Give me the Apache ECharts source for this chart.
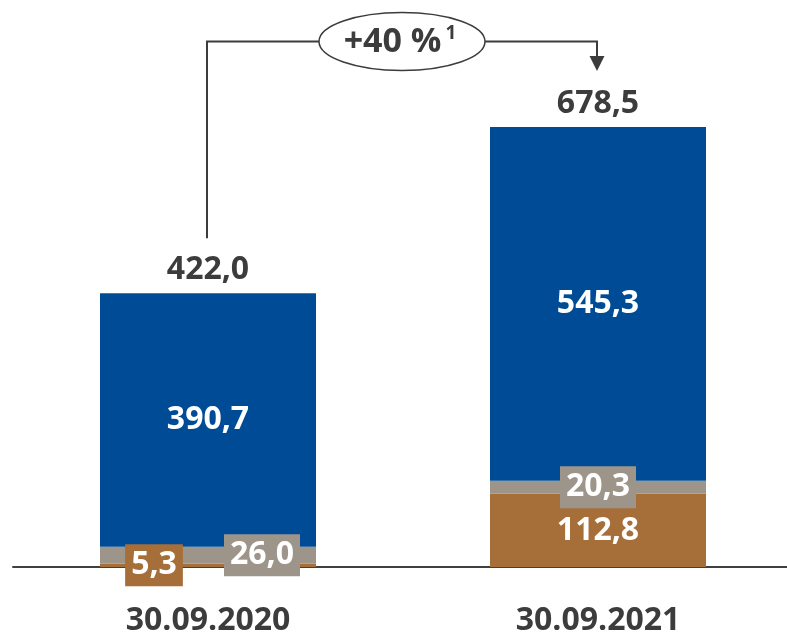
<!DOCTYPE html>
<html>
<head>
<meta charset="utf-8">
<script src="https://cdn.jsdelivr.net/npm/echarts@6/dist/echarts.min.js"></script>
<style>
  html, body { margin: 0; padding: 0; background: #fff; }
  #chart { width: 787px; height: 633px; }
</style>
</head>
<body>
<div id="chart"></div>
<script>
// data
var categories = ['30.09.2020', '30.09.2021']
var brownValues = [5.3, 112.8]
var grayValues = [26.0, 20.3]
var blueValues = [390.7, 545.3]
var totals = [422.0, 678.5]
var growthText = '+40 %'
var growthNote = '1'

var BLUE = '#004b96'
var GRAY = '#9e958a'
var BROWN = '#a66e38'
var DARK = '#3c3c3c'
var FONT = 'Open Sans'

function fmt(v) {
  return v.toFixed(1).replace('.', ',')
}

var baseLabel = {
  show: true,
  position: 'inside',
  color: '#fff',
  fontFamily: FONT,
  fontWeight: 'bold',
  fontSize: 32,
  lineHeight: 34,
  formatter: function (p) { return fmt(p.value) }
}

function boxLabel(color, dx) {
  return Object.assign({}, baseLabel, {
    backgroundColor: color,
    padding: [4, 6],
    offset: [dx, 0]
  })
}

// per-bar label styles (small segments get a boxed label)
var brownLabels = [boxLabel(BROWN, -54), baseLabel]
var grayLabels = [boxLabel(GRAY, 54), boxLabel(GRAY, 0)]

var chart = echarts.init(document.getElementById('chart'))

var option = {
  animation: false,
  grid: { left: 13, width: 780, top: 48, bottom: 66, outerBoundsMode: 'none', containLabel: false },
  xAxis: {
    type: 'category',
    data: categories,
    axisLine: { lineStyle: { color: '#404040', width: 2 } },
    axisTick: { show: false },
    axisLabel: {
      margin: 38,
      color: DARK,
      fontFamily: FONT,
      fontWeight: 'bold',
      fontSize: 32,
      lineHeight: 32
    }
  },
  yAxis: { type: 'value', min: 0, max: 800, show: false },
  series: [
    {
      type: 'bar', stack: 'a', barWidth: 216,
      itemStyle: { color: BROWN },
      data: brownValues.map(function (v, i) { return { value: v, label: brownLabels[i] } })
    },
    {
      type: 'bar', stack: 'a', barWidth: 216,
      itemStyle: { color: GRAY },
      data: grayValues.map(function (v, i) { return { value: v, label: grayLabels[i] } })
    },
    {
      type: 'bar', stack: 'a', barWidth: 216,
      itemStyle: { color: BLUE },
      label: baseLabel,
      data: blueValues
    },
    {
      type: 'scatter',
      symbolSize: 0,
      z: 5,
      itemStyle: { opacity: 1 },
      label: {
        show: true,
        position: 'top',
        distance: 7,
        color: DARK,
        fontFamily: FONT,
        fontWeight: 'bold',
        fontSize: 32,
        lineHeight: 32,
        formatter: function (p) { return fmt(p.value[1]) }
      },
      data: totals.map(function (v, i) { return [i, v] })
    }
  ]
}

chart.setOption(option)

// growth annotation: bracket from first total to the second one
var x0 = chart.convertToPixel({ xAxisIndex: 0 }, 0) - 1
var x1 = chart.convertToPixel({ xAxisIndex: 0 }, 1) - 1
var yTop0 = chart.convertToPixel({ yAxisIndex: 0 }, totals[0])
var yLine = 41.5
var cx = (x0 + x1) / 2
var rx = 83, ry = 29
var lineStyle = { stroke: DARK, lineWidth: 2, fill: null }

chart.setOption({
  graphic: [
    { type: 'polyline', shape: { points: [[x0, yTop0 - 55], [x0, yLine], [cx - rx, yLine]] }, style: lineStyle },
    { type: 'polyline', shape: { points: [[cx + rx, yLine], [x1, yLine], [x1, 57]] }, style: lineStyle },
    { type: 'polygon', shape: { points: [[x1 - 7.5, 56], [x1 + 7.5, 56], [x1, 71]] }, style: { fill: DARK } },
    { type: 'ellipse', shape: { cx: cx, cy: yLine, rx: rx, ry: ry }, style: { stroke: DARK, lineWidth: 1.5, fill: '#fff' } },
    {
      type: 'text', x: cx - 2, y: yLine + 1,
      style: {
        text: '{a|' + growthText + '}{s|' + growthNote + '}',
        align: 'center', verticalAlign: 'middle',
        rich: {
          a: { fontFamily: FONT, fontWeight: 'bold', fontSize: 34, lineHeight: 36, fill: DARK },
          s: { fontFamily: FONT, fontWeight: 'bold', fontSize: 19, lineHeight: 19, verticalAlign: 'top', fill: DARK, padding: [0, 0, 0, 4] }
        }
      }
    }
  ]
})
</script>
</body>
</html>
